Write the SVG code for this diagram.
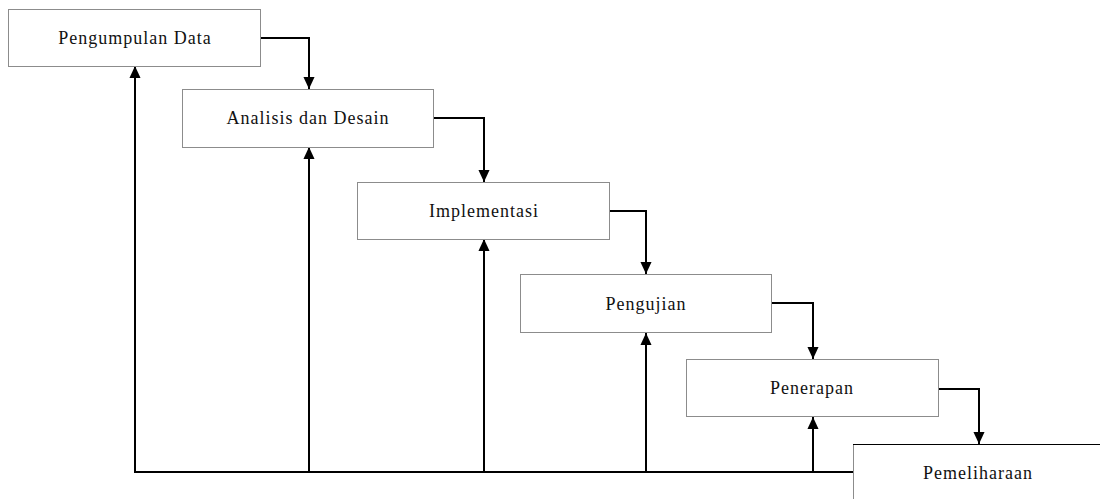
<svg xmlns="http://www.w3.org/2000/svg" width="1100" height="499" viewBox="0 0 1100 499">
<defs>
<style>
.box{fill:#fff;stroke:#8c8c8c;stroke-width:1}
.lbl{font-family:"Liberation Serif","Times New Roman",serif;font-size:18px;letter-spacing:1px;fill:#111;text-anchor:middle}
.ln{fill:none;stroke:#000;stroke-width:2}
</style>
<marker id="ah" markerWidth="12" markerHeight="13" viewBox="0 0 13 12" refX="13" refY="6" orient="auto" markerUnits="userSpaceOnUse">
<path d="M0,0 L13,6 L0,12 Z" fill="#000"/>
</marker>
</defs>
<rect width="1100" height="499" fill="#fff"/>
<g id="connectors">
<path class="ln" d="M261,38 H309 V89" marker-end="url(#ah)"/>
<path class="ln" d="M434,118 H484 V182" marker-end="url(#ah)"/>
<path class="ln" d="M610,211 H646 V274" marker-end="url(#ah)"/>
<path class="ln" d="M772,303 H813 V359" marker-end="url(#ah)"/>
<path class="ln" d="M939,389 H979 V444" marker-end="url(#ah)"/>
<path class="ln" d="M853,472 H135 V66" marker-end="url(#ah)"/>
<path class="ln" d="M309,472 V147" marker-end="url(#ah)"/>
<path class="ln" d="M484,472 V239" marker-end="url(#ah)"/>
<path class="ln" d="M646,472 V333" marker-end="url(#ah)"/>
<path class="ln" d="M813,472 V417" marker-end="url(#ah)"/>
</g>
<g id="n1"><rect class="box" x="8.5" y="9.5" width="252" height="57"/><text class="lbl" x="135" y="44">Pengumpulan Data</text></g>
<g id="n2"><rect class="box" x="182.5" y="89.5" width="251" height="58"/><text class="lbl" x="308" y="124">Analisis dan Desain</text></g>
<g id="n3"><rect class="box" x="357.5" y="182.5" width="252" height="57"/><text class="lbl" x="484" y="217">Implementasi</text></g>
<g id="n4"><rect class="box" x="520.5" y="274.5" width="251" height="58"/><text class="lbl" x="646" y="310">Pengujian</text></g>
<g id="n5"><rect class="box" x="686.5" y="359.5" width="252" height="57"/><text class="lbl" x="812" y="394">Penerapan</text></g>
<g id="n6"><rect class="box" x="853.5" y="444.5" width="260" height="70"/><line x1="853" y1="444.5" x2="1100" y2="444.5" stroke="#000" stroke-width="1.2"/><text class="lbl" x="978" y="479">Pemeliharaan</text></g>
</svg>
